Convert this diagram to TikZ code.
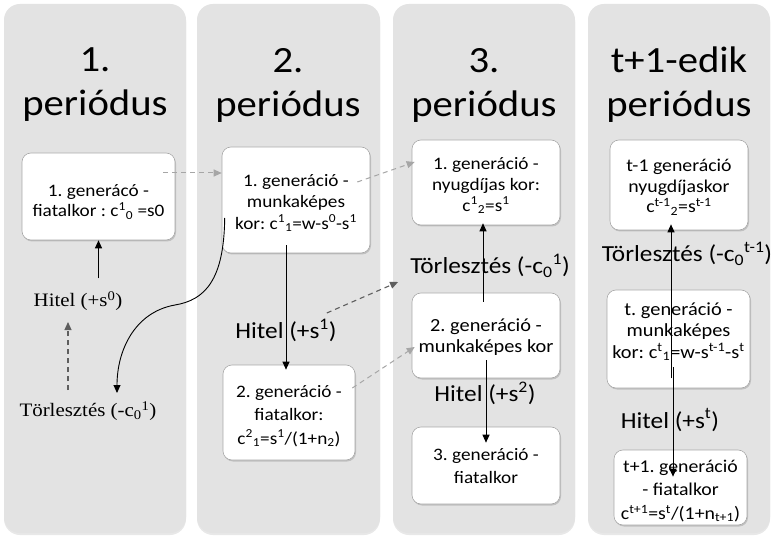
\documentclass[tikz,border=0pt]{standalone}
\usepackage{fontspec}
\setmainfont[FakeStretch=1.1]{Carlito}
\newfontfamily\tnr[FakeStretch=1.1]{Liberation Serif}
\usetikzlibrary{arrows.meta,shadows,calc}
\definecolor{panelgray}{HTML}{E3E3E3}
\definecolor{boxedge}{HTML}{A8A8A8}
\definecolor{lightdash}{HTML}{A6A6A6}
\definecolor{darkdash}{HTML}{5E5E5E}
\frenchspacing
\begin{document}
\begin{tikzpicture}[x=1pt,y=-1pt,
  panelbox/.style={fill=panelgray, draw=none, rounded corners=16pt,
    drop shadow={shadow xshift=0pt,shadow yshift=-2pt,opacity=0.18}},
  periodtitle/.style={align=center, font=\fontsize{37}{44}\selectfont, inner sep=0pt},
  genbox/.style={draw=boxedge, line width=0.6pt, fill=white, rounded corners=9pt,
    inner sep=0pt, drop shadow={shadow xshift=1pt,shadow yshift=-1.5pt,opacity=0.35}},
  boxtext/.style={align=center, inner sep=0pt, font=\fontsize{17.5}{21}\selectfont},
  sanslab/.style={font=\fontsize{23}{27}\selectfont, inner sep=0pt},
  seriflab/.style={font=\tnr\fontsize{19}{23}\selectfont, inner sep=0pt},
  solidarrow/.style={-{Triangle[length=8pt,width=7pt]}, line width=1pt, black},
  lightarrow/.style={-{Triangle[length=8pt,width=7pt]}, line width=1pt, lightdash, dash pattern=on 5pt off 4pt},
  darkarrow/.style={-{Triangle[length=8pt,width=7pt]}, line width=1.1pt, darkdash, dash pattern=on 5pt off 4pt}
]
\useasboundingbox (0,0) rectangle (771,537);
\fill[white] (0,0) rectangle (771,537);

% panels
\path[panelbox] (4,4) rectangle (186,533);
\path[panelbox] (197,4) rectangle (380,533);
\path[panelbox] (393,4) rectangle (575,533);
\path[panelbox] (588,4) rectangle (770,533);

% titles
\node[periodtitle] (p1) at (95,85) {1.\\periódus};
\node[periodtitle] (p2) at (288,85) {2.\\periódus};
\node[periodtitle] (p3) at (484,85) {3.\\periódus};
\node[periodtitle] (p4) at (679,85) {t+1-edik\\periódus};

% generation boxes (frames)
\node[genbox, minimum width=153pt, minimum height=87pt] (b11) at (98.5,196.5) {};
\node[genbox, minimum width=148pt, minimum height=106pt] (b21) at (296,200) {};
\node[genbox, minimum width=132pt, minimum height=95pt] (b22) at (289,412.5) {};
\node[genbox, minimum width=148pt, minimum height=85pt] (b31) at (486,182.5) {};
\node[genbox, minimum width=148pt, minimum height=85pt] (b32) at (486,335.5) {};
\node[genbox, minimum width=148pt, minimum height=77pt] (b33) at (486,465.5) {};
\node[genbox, minimum width=138pt, minimum height=90pt] (b41) at (679,185) {};
\node[genbox, minimum width=143pt, minimum height=98pt] (b42) at (678.5,339) {};
\node[genbox, minimum width=133pt, minimum height=75pt] (b43) at (680.5,487.5) {};

% box texts
\node[boxtext, font=\fontsize{17.5}{20}\selectfont] (b11t) at (98.5,202)
  {1. generácó -\\fiatalkor : c\textsuperscript{1}\textsubscript{0} =s0};
\node[boxtext, font=\fontsize{17.5}{21.5}\selectfont] (b21t) at (296,203)
  {1. generáció -\\munkaképes\\kor: c\textsuperscript{1}\textsubscript{1}=w-s\textsuperscript{0}-s\textsuperscript{1}};
\node[boxtext, font=\fontsize{17.5}{23.5}\selectfont] (b22t) at (289,416)
  {2. generáció -\\fiatalkor:\\c\textsuperscript{2}\textsubscript{1}=s\textsuperscript{1}/(1+n\textsubscript{2})};
\node[boxtext, font=\fontsize{17.5}{21}\selectfont] (b31t) at (486,185.5)
  {1. generáció -\\nyugdíjas kor:\\c\textsuperscript{1}\textsubscript{2}=s\textsuperscript{1}};
\node[boxtext, font=\fontsize{18.5}{20.5}\selectfont] (b32t) at (486,337)
  {2. generáció -\\munkaképes kor};
\node[boxtext, font=\fontsize{17.5}{23}\selectfont] (b33t) at (486,466)
  {3. generáció -\\fiatalkor};
\node[boxtext, font=\fontsize{18}{20.5}\selectfont] (b41t) at (679,187.5)
  {t-1 generáció\\nyugdíjaskor\\c\textsuperscript{t-1}\textsubscript{2}=s\textsuperscript{t-1}};
\node[boxtext, font=\fontsize{18.5}{21.5}\selectfont] (b42t) at (678.5,331.5)
  {t. generáció -\\munkaképes\\kor: c\textsuperscript{t}\textsubscript{1}=w-s\textsuperscript{t-1}-s\textsuperscript{t}};
\node[boxtext, font=\fontsize{18}{23.5}\selectfont] (b43t) at (680.5,491)
  {t+1. generáció\\- fiatalkor\\c\textsuperscript{t+1}=s\textsuperscript{t}/(1+n\textsubscript{t+1})};

% labels
\node[seriflab] (h1) at (78,301) {Hitel (+s\textsuperscript{0})};
\node[seriflab] (t1) at (88,411) {Törlesztés (-c\textsubscript{0}\textsuperscript{1})};
\node[sanslab] (h2) at (286,330) {Hitel (+s\textsuperscript{1})};
\node[sanslab] (t3) at (490,266) {Törlesztés (-c\textsubscript{0}\textsuperscript{1})};
\node[sanslab] (h3) at (485,393) {Hitel (+s\textsuperscript{2})};
\node[sanslab] (t4) at (687,254) {Törlesztés (-c\textsubscript{0}\textsuperscript{t-1})};
\node[sanslab] (h4) at (670,420) {Hitel (+s\textsuperscript{t})};

% connectors, period 1
\draw[solidarrow] ($(b11.south)+(0,38)$) -- (b11.south);
\draw[darkarrow] ($(t1.center)+(-20,-21)$) -- ($(h1.center)+(-10,21)$);
\coordinate (cstart) at ($(b21.west)+(3,18)$);
\coordinate (cmid) at (175,305);
\coordinate (cend) at ($(t1.center)+(29,-18)$);
\draw[solidarrow, line width=0.9pt] (cstart) .. controls (224,280) and (205,300) .. (cmid)
  .. controls (135,312) and (117,350) .. (cend);

% dashed transfers
\draw[lightarrow] ($(b11.east)+(-12,-23.5)$) -- ($(b21.west)+(0,-27)$);
\draw[lightarrow] ($(b21.east)+(-13,-18)$) -- ($(b31.west)+(3,-20.5)$);
\draw[darkarrow] ($(h2.east)+(-10,-17)$) -- ($(t3.west)+(-12,16)$);
\draw[lightarrow] ($(b22.east)+(-3,-24.5)$) -- ($(b32.west)+(3,11.5)$);

% vertical arrows
\draw[solidarrow] ($(b21.south)+(-10,-8)$) -- ($(b22.north)+(-3,5)$);
\draw[solidarrow] ($(b32.north)+(-3,9)$) -- ($(b31.south)+(-3,-2)$);
\draw[solidarrow] ($(b32.south)+(0,-18)$) -- ($(b33.north)+(0,16)$);
\draw[solidarrow] ($(b42.south)+(-7.5,-10)$) -- ($(b41.south)+(-8,-6)$);
\draw[solidarrow] ($(b42.south)+(-5.5,-21)$) -- ($(b43.north)+(-7.5,27)$);
\end{tikzpicture}
\end{document}
